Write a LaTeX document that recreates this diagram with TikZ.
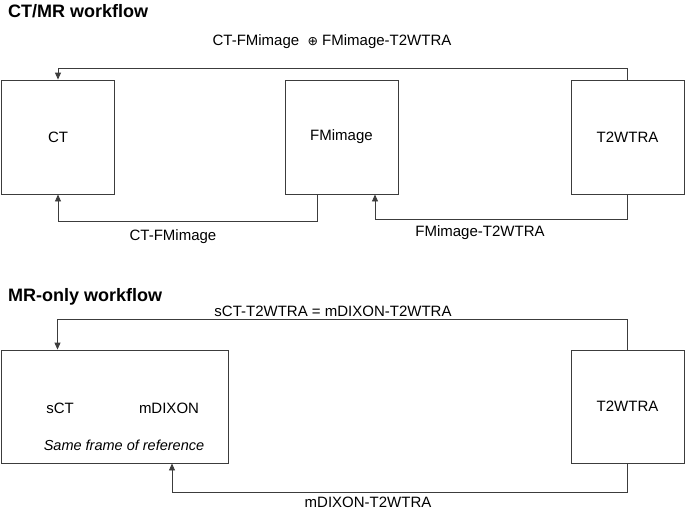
\documentclass[tikz,border=0pt]{standalone}
\usepackage{fontspec}
\setmainfont{Liberation Sans}
\newfontfamily\symfont{DejaVu Sans}
\usetikzlibrary{arrows.meta}
\definecolor{linegray}{HTML}{3C3C3C}
\tikzset{
  box/.style={draw=linegray, line width=0.9pt, minimum width=113pt, minimum height=114pt, inner sep=0pt},
  lbl/.style={inner sep=0pt, font=\fontsize{15}{18}\selectfont},
  ttl/.style={inner sep=0pt, anchor=west, font=\fontsize{18}{21}\selectfont\bfseries},
  conn/.style={draw=linegray, line width=0.9pt, -{Triangle[length=7pt,width=6pt]}}
}
\begin{document}
\begin{tikzpicture}[x=1pt,y=-1pt]
\useasboundingbox (0,0) rectangle (685,509);
% titles
\node[ttl] (t1) at (8,11) {CT/MR workflow};
\node[ttl] (t2) at (8,297) {MR-only workflow};
% CT/MR boxes
\node[box] (ct) at (58,137) {};
\node[lbl] (ctl) at (58,137) {CT};
\node[box] (fm) at (341.5,137) {};
\node[lbl] (fml) at (341.5,137) {FMimage};
\node[box] (t2a) at (627.5,137) {};
\node[lbl] (t2al) at (627.5,137) {T2WTRA};
% CT/MR connectors
\draw[conn] (t2a.north) -- ++(0,-11) -| (ct.north);
\draw[conn] ([xshift=-24.5pt]fm.south) -- ++(0,27) -| (ct.south);
\draw[conn] (t2a.south) -- ++(0,25) -| ([xshift=33.5pt]fm.south);
\node[lbl] (la) at (332,42) {CT-FMimage \ {\symfont\fontsize{12.5}{14}\selectfont ⊕} FMimage-T2WTRA};
\node[lbl] (lb) at (173,237) {CT-FMimage};
\node[lbl] (lc) at (480,233) {FMimage-T2WTRA};
% MR-only boxes
\node[box, minimum width=227pt, minimum height=113pt] (sct) at (114.5,406.5) {};
\node[lbl] (sctl) at (60,408) {sCT};
\node[lbl] (mdl) at (169,408) {mDIXON};
\node[lbl, font=\fontsize{14.5}{17}\selectfont\itshape] (same) at (124,445) {Same frame of reference};
\node[box, minimum height=113pt] (t2b) at (627.5,406.5) {};
\node[lbl] (t2bl) at (627.5,406.5) {T2WTRA};
% MR-only connectors
\draw[conn] (t2b.north) -- ++(0,-30) -| ([xshift=-57pt]sct.north);
\draw[conn] (t2b.south) -- ++(0,29) -| ([xshift=57.5pt]sct.south);
\node[lbl] (ld) at (333,311) {sCT-T2WTRA = mDIXON-T2WTRA};
\node[lbl] (le) at (368,502) {mDIXON-T2WTRA};
\end{tikzpicture}
\end{document}
